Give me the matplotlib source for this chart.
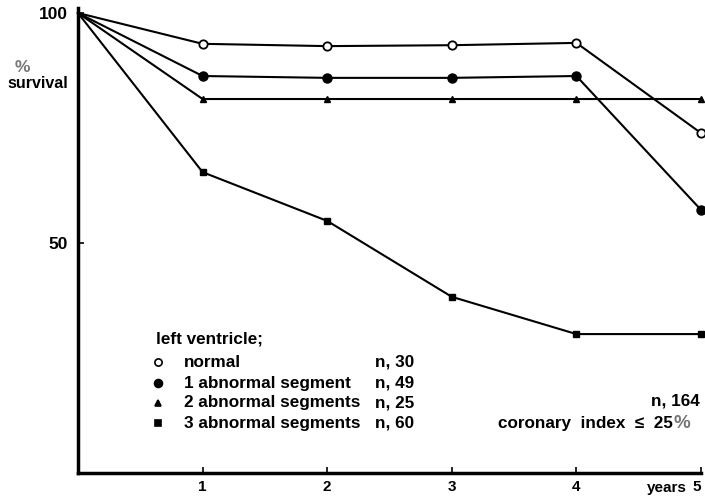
import matplotlib
matplotlib.use("Agg")
import matplotlib.pyplot as plt

plt.rcParams['font.family'] = ['Liberation Sans', 'DejaVu Sans']
plt.rcParams['font.weight'] = 'bold'

years = [0, 1, 2, 3, 4, 5]
normal = [100, 93.3, 92.8, 93.0, 93.5, 73.9]
one_abn = [100, 86.3, 85.9, 85.9, 86.3, 57.2]
two_abn = [100, 81.3, 81.3, 81.3, 81.3, 81.3]
three_abn = [100, 65.4, 54.8, 38.3, 30.2, 30.2]

labels = ["normal", "1 abnormal segment", "2 abnormal segments", "3 abnormal segments"]
ns = ["n, 30", "n, 49", "n, 25", "n, 60"]
xtick_vals = [1, 2, 3, 4, 5]
xtick_labels = ["1", "2", "3", "4", "5"]
ytick_vals = [50, 100]

fig = plt.figure(figsize=(7.05, 4.98), dpi=100)
ax = fig.add_axes([78/705, 1-473/498, (701-78)/705, (473-13)/498])

series = [normal, one_abn, two_abn, three_abn]
styles = [dict(marker='o', mfc='white', mec='black', ms=6, mew=1.3),
          dict(marker='o', mfc='black', mec='black', ms=6.5),
          dict(marker='^', mfc='black', mec='black', ms=5),
          dict(marker='s', mfc='black', mec='black', ms=5)]
for s, st in zip(series, styles):
    ax.plot(years, s, color='black', lw=1.5, clip_on=False, zorder=3,
            markevery=slice(1, None), **st)

ax.set_xlim(0, 5)
ax.set_ylim(0, 100)
for sp in ['top', 'right']:
    ax.spines[sp].set_visible(False)
ax.spines['left'].set_linewidth(2.5)
ax.spines['bottom'].set_linewidth(2.5)
ax.spines['left'].set_bounds(0, 101)
ax.set_xticks(xtick_vals)
ax.set_xticklabels(xtick_labels, fontsize=11, fontweight='bold')
ax.get_xticklabels()[-1].set_horizontalalignment('right')
ax.set_yticks(ytick_vals)
ax.set_yticklabels([str(v) for v in ytick_vals], fontsize=12.5, fontweight='bold')
ax.tick_params(axis='x', direction='in', length=4, width=1.2, pad=5)
ax.tick_params(axis='y', direction='in', length=4, width=1.2, pad=7)

fig.text(687/705, 1-488/498, "years", ha='right', va='center', fontsize=11, fontweight='bold')

fig.text(22/705, 1-67/498, "%", ha='center', va='center', fontsize=12.5, color='#777777')
fig.text(38/705, 1-83/498, "survival", ha='center', va='center', fontsize=11.5, fontweight='bold')

# legend block
fs = 12.3
fig.text(156/705, 1-339/498, "left ventricle;", ha='left', va='center', fontsize=fs, fontweight='bold')
row_y = [362, 383, 403, 423]
for st, lab, n, y in zip(styles, labels, ns, row_y):
    fig.lines.append(plt.Line2D([158/705], [1-y/498], transform=fig.transFigure,
                                linestyle='none', marker=st['marker'], mfc=st['mfc'], mec=st['mec'],
                                ms=st['ms']-0.8, mew=1.2))
    fig.text(184/705, 1-y/498, lab, ha='left', va='center', fontsize=fs, fontweight='bold')
    fig.text(375/705, 1-y/498, n, ha='left', va='center', fontsize=fs, fontweight='bold')

fig.text(700/705, 1-401/498, "n, 164", ha='right', va='center', fontsize=fs, fontweight='bold')
fig.text(673/705, 1-423/498, "coronary  index  ≤  25", ha='right', va='center', fontsize=fs, fontweight='bold')
fig.text(673/705, 1-423/498, "%", ha='left', va='center', fontsize=13.5, color='#777777')

fig.savefig("out.png", dpi=100)
